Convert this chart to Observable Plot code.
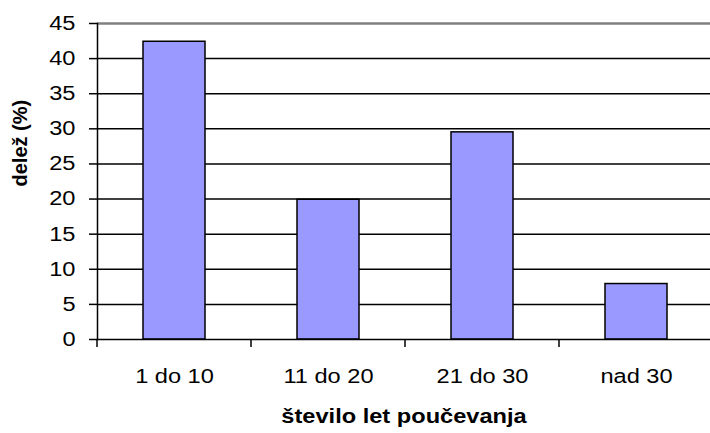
<!DOCTYPE html>
<html>
<head>
<meta charset="utf-8">
<script src="https://cdn.jsdelivr.net/npm/d3@7"></script>
<script src="https://cdn.jsdelivr.net/npm/@observablehq/plot@0.6"></script>
<style>
  html, body { margin: 0; padding: 0; background: #fff; overflow: hidden; }
  svg { font-family: Arial, "Liberation Sans", sans-serif; }
</style>
</head>
<body>
<div id="chart"></div>
<script>
// Years of teaching experience and share of respondents (%)
const categories = ["1 do 10", "11 do 20", "21 do 30", "nad 30"];
const shares = [42.4, 19.9, 29.5, 7.9];
const yTicks = [0, 5, 10, 15, 20, 25, 30, 35, 40, 45];

const data = categories.map((c, i) => ({cat: c, value: shares[i]}));

const FONT = "Arial, 'Liberation Sans', sans-serif";
const FONT_SIZE = 20;
const WIDE = 1.18; // horizontal widening of the horizontal labels

// Tick marks on the category axis, placed between the bands
function bandBoundaryTicks(index, scales, values, dimensions) {
  const x = scales.x;
  const gap = (x.step() - x.bandwidth()) / 2;
  const yBase = dimensions.height - dimensions.marginBottom;
  const g = d3.create("svg:g").attr("stroke", "#000").attr("stroke-width", 1.5);
  for (const c of categories) {
    const bx = x(c) - gap;
    g.append("line")
      .attr("x1", bx).attr("x2", bx)
      .attr("y1", yBase).attr("y2", yBase + 8);
  }
  return g.node();
}

const chart = Plot.plot({
  width: 710,
  height: 433,
  marginTop: 23,
  marginLeft: 97,
  marginRight: 0,
  marginBottom: 94,
  style: {fontSize: FONT_SIZE + "px", fontFamily: FONT, color: "#000", background: "#fff"},
  x: {domain: categories, range: [97, 713], paddingInner: 0.6, paddingOuter: 0.3, label: null},
  y: {domain: [0, 45], label: null},
  marks: [
    Plot.ruleY(yTicks.filter(t => t > 0 && t < 45), {stroke: "#000", strokeWidth: 1.5}),
    Plot.ruleY([45], {stroke: "#808080", strokeWidth: 2.5}),
    Plot.barY(data, {x: "cat", y: "value", fill: "#9999ff", stroke: "#000", strokeWidth: 1.5}),
    Plot.frame({anchor: "left", stroke: "#000", strokeWidth: 1.5}),
    Plot.frame({anchor: "bottom", stroke: "#000", strokeWidth: 1.5}),
    Plot.axisY(yTicks, {tickSize: 8, tickPadding: 14, strokeWidth: 1.5, fontSize: FONT_SIZE, label: null, className: "wide"}),
    Plot.axisX({tickSize: 0, tickPadding: 29, fontSize: FONT_SIZE, label: null, className: "wide"}),
    bandBoundaryTicks,
    Plot.text(["število let poučevanja"], {frameAnchor: "bottom", dy: 83, fontWeight: "bold", fontSize: FONT_SIZE, className: "wide"}),
    Plot.text(["delež (%)"], {frameAnchor: "left", dx: -77, dy: 5, rotate: -90, fontWeight: "bold", fontSize: FONT_SIZE})
  ]
});

document.getElementById("chart").append(chart);

// Widen horizontal labels to the chart's broad lettering
chart.querySelectorAll("g[class*='wide'] text").forEach(t => {
  const len = t.getComputedTextLength();
  t.setAttribute("textLength", (len * WIDE).toFixed(1));
  t.setAttribute("lengthAdjust", "spacingAndGlyphs");
});
</script>
</body>
</html>
